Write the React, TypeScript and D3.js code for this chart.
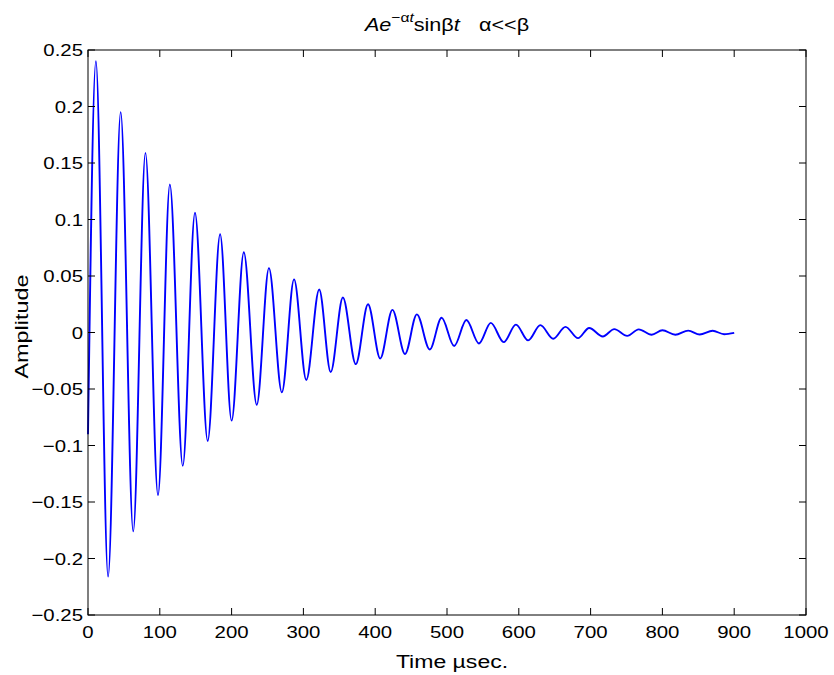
import React from 'react';
import * as d3 from 'd3';

// Extremal points of the damped oscillation (time in µs, amplitude)
const waveTime = [
  0, 11, 28, 45.5, 63, 80, 97.5, 114, 132, 149, 166.7, 184, 200, 217, 235, 252, 270, 287, 304, 322,
  338, 355, 373, 390, 407, 424, 441.5, 458, 476, 492.5, 510, 527, 544.5, 561, 579, 596, 613, 630,
  648, 665, 682.5, 698, 717, 733, 751, 767, 785, 800, 818, 836, 852, 870, 886, 900,
];
const waveAmp = [
  -0.09, 0.24, -0.216, 0.195, -0.176, 0.159, -0.144, 0.131, -0.118, 0.106, -0.096, 0.087, -0.078,
  0.071, -0.064, 0.057, -0.053, 0.047, -0.042, 0.038, -0.035, 0.031, -0.028, 0.025, -0.023, 0.02,
  -0.019, 0.016, -0.015, 0.013, -0.012, 0.011, -0.0097, 0.0085, -0.0085, 0.007, -0.007, 0.0065,
  -0.0055, 0.005, -0.005, 0.004, -0.0035, 0.003, -0.003, 0.0028, -0.002, 0.002, -0.002, 0.0017,
  -0.0018, 0.0015, -0.0015, -0.0003,
];

const xTicks = [0, 100, 200, 300, 400, 500, 600, 700, 800, 900, 1000];
const yTicks = [-0.25, -0.2, -0.15, -0.1, -0.05, 0, 0.05, 0.1, 0.15, 0.2, 0.25];
const xTickLabels = ['0', '100', '200', '300', '400', '500', '600', '700', '800', '900', '1000'];
const yTickLabels = ['\u22120.25', '\u22120.2', '\u22120.15', '\u22120.1', '\u22120.05', '0', '0.05', '0.1', '0.15', '0.2', '0.25'];

const W = 834;
const H = 675;
const M = { left: 88, right: 806, top: 50, bottom: 615 };
const FONT = '"Liberation Sans", Arial, Helvetica, sans-serif';
const SX = 1.2;
const TICK = 7;

export default function App() {
  const x = d3.scaleLinear().domain([0, 1000]).range([M.left, M.right]);
  const y = d3.scaleLinear().domain([-0.25, 0.25]).range([M.bottom, M.top]);
  const pts: [number, number][] = waveTime.map((t, i) => [t, waveAmp[i]]);
  const line = d3
    .line<[number, number]>()
    .x((d) => x(d[0]))
    .y((d) => y(d[1]))
    .curve(d3.curveMonotoneX);

  return (
    <svg
      width={W}
      height={H}
      style={{ position: 'absolute', left: 0, top: 0, background: '#fff' }}
      fontFamily={FONT}
    >
      <rect x={0} y={0} width={W} height={H} fill="#fff" />
      <path d={line(pts) || ''} fill="none" stroke="#0000ff" strokeWidth={1.9} strokeLinejoin="round" />
      {/* box */}
      <rect
        x={M.left}
        y={M.top}
        width={M.right - M.left}
        height={M.bottom - M.top}
        fill="none"
        stroke="#000"
        strokeWidth={1}
      />
      {/* x ticks */}
      {xTicks.map((t, i) => (
        <g key={'xt' + i}>
          <line x1={x(t)} x2={x(t)} y1={M.bottom} y2={M.bottom - TICK} stroke="#000" />
          <line x1={x(t)} x2={x(t)} y1={M.top} y2={M.top + TICK} stroke="#000" />
          <text
            transform={`translate(${x(t)},${M.bottom + 23}) scale(${SX},1)`}
            textAnchor="middle"
            fontSize={17}
            fill="#000"
          >
            {xTickLabels[i]}
          </text>
        </g>
      ))}
      {/* y ticks */}
      {yTicks.map((v, i) => (
        <g key={'yt' + i}>
          <line x1={M.left} x2={M.left + TICK} y1={y(v)} y2={y(v)} stroke="#000" />
          <line x1={M.right} x2={M.right - TICK} y1={y(v)} y2={y(v)} stroke="#000" />
          <text
            transform={`translate(${M.left - 5},${y(v) + 6}) scale(${SX},1)`}
            textAnchor="end"
            fontSize={17}
            fill="#000"
          >
            {yTickLabels[i]}
          </text>
        </g>
      ))}
      {/* x label */}
      <text
        transform={`translate(${(M.left + M.right) / 2 + 5},668) scale(1.28,1)`}
        textAnchor="middle"
        fontSize={18}
        fill="#000"
      >
        Time µsec.
      </text>
      {/* y label */}
      <text
        transform={`translate(28,${(M.top + M.bottom) / 2 - 6}) rotate(-90) scale(1.3,1)`}
        textAnchor="middle"
        fontSize={18}
        fill="#000"
      >
        Amplitude
      </text>
      {/* title */}
      <text
        transform={`translate(${(M.left + M.right) / 2},31) scale(${SX},1)`}
        textAnchor="middle"
        fontSize={18}
        fill="#000"
      >
        <tspan fontStyle="italic">Ae</tspan>
        <tspan dy={-9} fontSize={13}>−α</tspan>
        <tspan fontSize={13} fontStyle="italic">t</tspan>
        <tspan dy={9}>sinβ</tspan>
        <tspan fontStyle="italic">t</tspan>
        <tspan dx={16}>α&lt;&lt;β</tspan>
      </text>
    </svg>
  );
}
